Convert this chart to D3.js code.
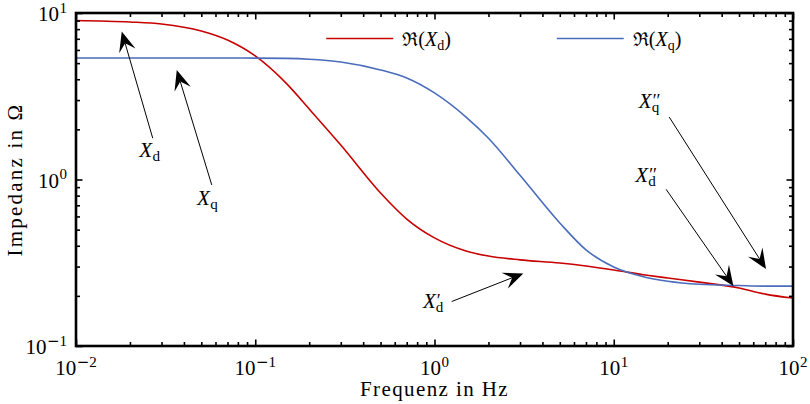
<!DOCTYPE html>
<html>
<head>
<meta charset="utf-8">
<script src="https://cdn.jsdelivr.net/npm/d3@7/dist/d3.min.js"></script>
<style>
  html, body { margin: 0; padding: 0; background: #fff; }
  svg { display: block; }
  text { font-family: "Liberation Serif", "Times New Roman", "DejaVu Serif", serif; fill: #000; }
</style>
</head>
<body>
<svg id="chart" width="810" height="404"></svg>
<script>
// Frequency grid (Hz) and real parts of the operational reactances (Ω)
const freq = [0.01, 0.02, 0.03, 0.05, 0.07, 0.1, 0.15, 0.2, 0.3, 0.5, 0.7, 1,
              1.5, 2, 3, 5, 7, 10, 15, 20, 30, 50, 70, 100];
const xdRe = [9.02, 8.83, 8.59, 7.80, 6.88, 5.52, 3.75, 2.65, 1.61, 0.83, 0.579, 0.446,
              0.372, 0.347, 0.329, 0.315, 0.302, 0.286, 0.267, 0.256, 0.242, 0.223, 0.205, 0.194];
const xqRe = [5.37, 5.37, 5.37, 5.37, 5.37, 5.36, 5.34, 5.28, 5.08, 4.55, 4.07, 3.31,
              2.37, 1.77, 1.06, 0.548, 0.378, 0.298, 0.259, 0.245, 0.235, 0.231, 0.229, 0.229];

const xTickExp = [-2, -1, 0, 1, 2];
const yTickExp = [-1, 0, 1];

// Annotated reactances: label anchor and arrow tail/tip in data coordinates
const annSym   = ["d", "q", "d", "d", "q"];
const annPrime = ["", "", "\u2032", "\u2032\u2032", "\u2032\u2032"];
const annLabel = [[0.0225, 1.36], [0.0473, 0.703], [0.863, 0.169], [13.2, 0.966], [13.8, 2.69]];
const annTail  = [[0.0268, 1.77], [0.0572, 0.927], [1.247, 0.185], [19.6, 0.873], [20.4, 2.37]];
const annTip   = [[0.018, 7.73], [0.0365, 4.54], [3.13, 0.273], [46.5, 0.229], [70.7, 0.29]];

const seriesNames = ["d", "q"];
const seriesColors = ["#c80000", "#4a6cbd"];

const W = 810, H = 404;
const margin = {top: 13, right: 17, bottom: 58, left: 76};
const svg = d3.select("#chart");

const x = d3.scaleLog().domain([1e-2, 1e2]).range([margin.left, W - margin.right]);
const y = d3.scaleLog().domain([1e-1, 1e1]).range([H - margin.bottom, margin.top]);

// Curves
const line = d3.line().x(d => x(d[0])).y(d => y(d[1])).curve(d3.curveMonotoneX);
[xdRe, xqRe].forEach((vals, i) => {
  svg.append("path")
    .datum(freq.map((f, j) => [f, vals[j]]))
    .attr("fill", "none")
    .attr("stroke", seriesColors[i])
    .attr("stroke-width", 1.6)
    .attr("d", line);
});

// Ticks on all four sides, pointing inward
const majorX = xTickExp.map(e => Math.pow(10, e));
const majorY = yTickExp.map(e => Math.pow(10, e));
const minorX = x.ticks().filter(v => !majorX.some(m => Math.abs(m - v) / m < 1e-9));
const minorY = y.ticks().filter(v => !majorY.some(m => Math.abs(m - v) / m < 1e-9));

function addAxis(axisFn, scale, values, size, transform) {
  const g = svg.append("g").attr("transform", transform)
    .call(axisFn(scale).tickValues(values).tickSize(-size).tickFormat(""));
  g.select(".domain").remove();
  g.selectAll(".tick line").attr("stroke", "#000").attr("stroke-width", 1.6);
}
const bottomY = H - margin.bottom, rightX = W - margin.right;
addAxis(d3.axisBottom, x, minorX, 4, `translate(0,${bottomY})`);
addAxis(d3.axisBottom, x, majorX, 6.5, `translate(0,${bottomY})`);
addAxis(d3.axisTop, x, minorX, 4, `translate(0,${margin.top})`);
addAxis(d3.axisTop, x, majorX, 6.5, `translate(0,${margin.top})`);
addAxis(d3.axisLeft, y, minorY, 4, `translate(${margin.left},0)`);
addAxis(d3.axisLeft, y, majorY, 6.5, `translate(${margin.left},0)`);
addAxis(d3.axisRight, y, minorY, 4, `translate(${rightX},0)`);
addAxis(d3.axisRight, y, majorY, 6.5, `translate(${rightX},0)`);

// Frame
svg.append("rect")
  .attr("x", margin.left).attr("y", margin.top)
  .attr("width", rightX - margin.left).attr("height", bottomY - margin.top)
  .attr("fill", "none").attr("stroke", "#000").attr("stroke-width", 2.6);

// Tick labels as powers of ten
function powLabel(sel, e) {
  sel.append("tspan").text("10");
  if (e < 0) {
    sel.append("tspan").attr("dy", -8.5).attr("font-size", 15)
      .attr("font-family", "DejaVu Sans").attr("dx", 0.5).text("\u2212");
    sel.append("tspan").attr("font-size", 15).text(String(-e));
  } else {
    sel.append("tspan").attr("dy", -8.5).attr("font-size", 15).attr("dx", 0.5).text(String(e));
  }
}
xTickExp.forEach(e => {
  const t = svg.append("text").attr("x", x(Math.pow(10, e)))
    .attr("y", bottomY + 29).attr("text-anchor", "middle").attr("font-size", 21);
  powLabel(t, e);
});
yTickExp.forEach(e => {
  const t = svg.append("text").attr("x", margin.left - 9)
    .attr("y", y(Math.pow(10, e)) + 8).attr("text-anchor", "end").attr("font-size", 21);
  powLabel(t, e);
});

// Axis titles
svg.append("text").attr("x", (margin.left + rightX) / 2).attr("y", 396)
  .attr("text-anchor", "middle").attr("font-size", 21).attr("letter-spacing", 1.4)
  .text("Frequenz in Hz");
svg.append("text")
  .attr("transform", `translate(22,${(margin.top + bottomY) / 2}) rotate(-90)`)
  .attr("text-anchor", "middle").attr("font-size", 21).attr("letter-spacing", 2.2)
  .text("Impedanz in \u03A9");

// Width of a string at a given size (used to stack primes over subscripts)
function textWidth(str, size) {
  const t = svg.append("text").attr("font-size", size).text(str);
  const w = t.node().getComputedTextLength();
  t.remove();
  return w;
}

// Math label X with subscript and optional primes, baseline-left at (px, py)
function mathX(px, py, sub, primes, size) {
  const t = svg.append("text").attr("x", px).attr("y", py).attr("font-size", size);
  t.append("tspan").attr("font-style", "italic").text("X");
  const subSize = size * 0.72;
  if (primes) {
    const pSize = size * 0.85;
    const pw = textWidth(primes, pSize);
    t.append("tspan").attr("dx", 1).attr("dy", -1).attr("font-size", pSize).text(primes);
    t.append("tspan").attr("dx", -pw - 1).attr("dy", 5).attr("font-size", subSize).text(sub);
  } else {
    t.append("tspan").attr("dx", 0.5).attr("dy", 4).attr("font-size", subSize).text(sub);
  }
  return t;
}

// Legend
const legX = [x(0.1) + 71, x(10) - 57];
seriesNames.forEach((s, i) => {
  const lx = legX[i], ly = 38.5;
  svg.append("line").attr("x1", lx).attr("x2", lx + 67).attr("y1", ly).attr("y2", ly)
    .attr("stroke", seriesColors[i]).attr("stroke-width", 1.6);
  const t = svg.append("text").attr("x", lx + 76).attr("y", ly + 7).attr("font-size", 20);
  t.append("tspan").attr("font-family", "DejaVu Serif").attr("font-size", 19).text("\u211C");
  t.append("tspan").text("(");
  t.append("tspan").attr("font-style", "italic").text("X");
  t.append("tspan").attr("dy", 4).attr("font-size", 14).text(s);
  t.append("tspan").attr("dy", -4).text(")");
});

// Annotations with stealth-style arrowheads
annLabel.forEach((lab, i) => {
  mathX(x(lab[0]), y(lab[1]), annSym[i], annPrime[i], 21);
  const x0 = x(annTail[i][0]), y0 = y(annTail[i][1]);
  const x1 = x(annTip[i][0]), y1 = y(annTip[i][1]);
  const len = Math.hypot(x1 - x0, y1 - y0);
  const ux = (x1 - x0) / len, uy = (y1 - y0) / len;
  const nx = -uy, ny = ux;
  const L = 20, Wd = 8.5, notch = 0.6 * L;
  svg.append("line").attr("x1", x0).attr("y1", y0)
    .attr("x2", x1 - ux * notch).attr("y2", y1 - uy * notch)
    .attr("stroke", "#000").attr("stroke-width", 1);
  const pts = [
    [x1, y1],
    [x1 - ux * L + nx * Wd, y1 - uy * L + ny * Wd],
    [x1 - ux * notch, y1 - uy * notch],
    [x1 - ux * L - nx * Wd, y1 - uy * L - ny * Wd]
  ];
  svg.append("path").attr("d", "M" + pts.map(p => p.join(",")).join("L") + "Z")
    .attr("fill", "#000");
});
</script>
</body>
</html>
